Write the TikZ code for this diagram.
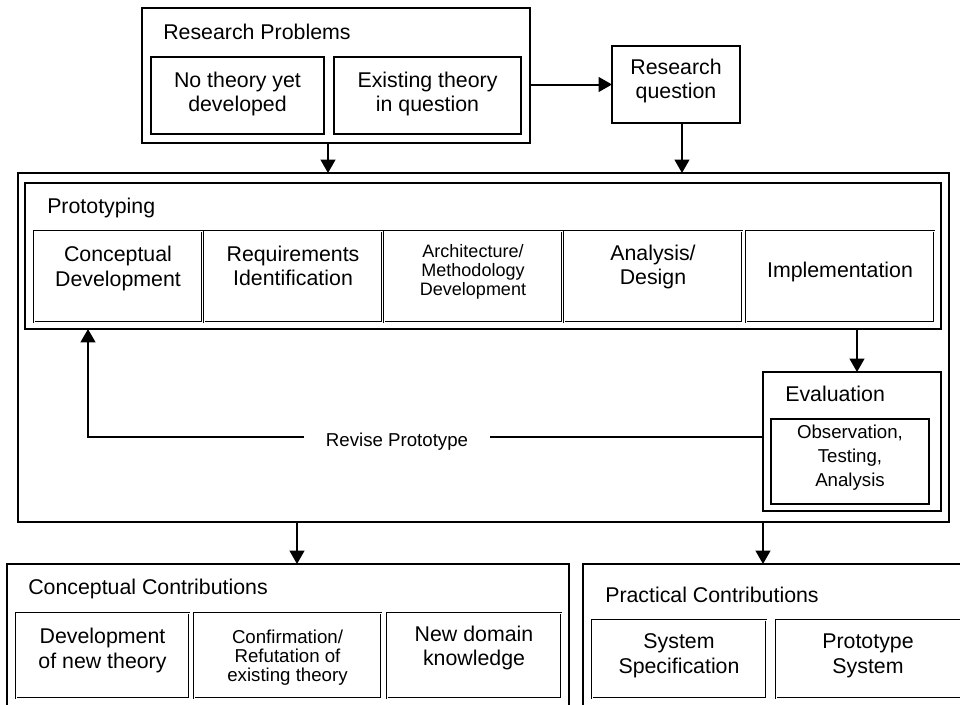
\documentclass[tikz,border=0pt]{standalone}
\usepackage{fontspec}
\setmainfont{Liberation Sans}
\usetikzlibrary{arrows.meta}

% one unit = one pixel of a 960 x 704 canvas, y grows downwards
\tikzset{
  x=0.75pt, y=-0.75pt,
  thinbox/.style={draw=black, line width=0.8pt, inner sep=0pt, outer sep=0pt},
  heavybox/.style={draw=black, line width=1.5pt, inner sep=0pt, outer sep=0pt},
  dblbox/.style={draw=black, double=white, double distance=0.7pt, line width=0.45pt, inner sep=0pt, outer sep=0pt},
  conn/.style={line width=1.5pt, -{Triangle[width=11pt,length=10pt]}},
  plainline/.style={line width=1.5pt},
  lbl/.style={align=center, inner sep=0pt, font=\fontsize{16}{18.4}\selectfont},
  lblsmall/.style={align=center, inner sep=0pt, font=\fontsize{13.5}{14}\selectfont},
  lblmid/.style={align=center, inner sep=0pt, font=\fontsize{14}{14.2}\selectfont},
  lblobs/.style={align=center, inner sep=0pt, font=\fontsize{14}{18.2}\selectfont},
  ttl/.style={anchor=base west, inner sep=0pt, font=\fontsize{16}{18.4}\selectfont},
}

% box node from its corners: name, style, x1, y1, x2, y2
\newcommand\pxbox[6]{%
  \node[#2, minimum width={0.75pt*(#5-#3)}, minimum height={0.75pt*(#6-#4)}]
    (#1) at ({(#3+#5)/2},{(#4+#6)/2}) {};}

\begin{document}
\begin{tikzpicture}
\clip (0,0) rectangle (960,704);
\fill[white] (0,0) rectangle (960,704);

% ---- research problems and question
\pxbox{rp}{thinbox}{142}{8}{530}{143}
\node[ttl] (rpt) at (163,39) {Research Problems};
\pxbox{nt}{thinbox}{151}{57}{324}{134}
\node[lbl] (ntt) at (237.5,94) {No theory yet\\developed};
\pxbox{et}{thinbox}{334}{57}{521}{134}
\node[lbl] (ett) at (427.5,94) {Existing theory\\in question};

\pxbox{rq}{thinbox}{612}{46}{740}{123}
\node[lbl] (rqt) at (676,81) {Research\\question};

% ---- prototyping cycle
\pxbox{big}{heavybox}{18}{173}{949}{522}
\pxbox{proto}{thinbox}{25}{183}{941}{329}
\node[ttl] (protot) at (47,213) {Prototyping};

\pxbox{cd}{dblbox}{34}{231}{202}{322}
\node[lbl] (cdt) at (118,268.5) {Conceptual\\Development};
\pxbox{ri}{dblbox}{204}{231}{382}{322}
\node[lbl] (rit) at (293,266) {Requirements\\Identification};
\pxbox{am}{dblbox}{384}{231}{562}{322}
\node[lblsmall] (amt) at (473,272) {Architecture/\\Methodology\\Development};
\pxbox{ad}{dblbox}{564}{231}{742}{322}
\node[lbl] (adt) at (653,267) {Analysis/\\Design};
\pxbox{im}{dblbox}{746}{231}{934}{322}
\node[lbl] (imt) at (840,271.5) {Implementation};

\pxbox{ev}{thinbox}{763}{372}{941}{511}
\node[ttl] (evt) at (785,401) {Evaluation};
\pxbox{ob}{thinbox}{771}{419}{929}{504}
\node[lblobs] (obt) at (850,457.7) {Observation,\\Testing,\\Analysis};

\node[lblmid, inner xsep=16pt] (rv) at (397,441.8) {Revise Prototype};

% ---- contributions
\pxbox{cc}{thinbox}{7}{564}{569}{720}
\node[ttl] (cct) at (28,594) {Conceptual Contributions};
\pxbox{dn}{dblbox}{16}{613}{189}{698}
\node[lbl] (dnt) at (102.5,650.5) {Development\\of new theory};
\pxbox{cr}{dblbox}{194}{613}{381}{698}
\node[lblmid] (crt) at (287.5,658) {Confirmation/\\Refutation of\\existing theory};
\pxbox{nd}{dblbox}{387}{613}{561}{698}
\node[lbl] (ndt) at (474,648) {New domain\\knowledge};

\pxbox{pc}{thinbox}{583}{564}{972}{720}
\node[ttl] (pct) at (605,602) {Practical Contributions};
\pxbox{ss}{dblbox}{592}{620}{766}{698}
\node[lbl] (sst) at (679,656) {System\\Specification};
\pxbox{ps}{dblbox}{776}{620}{961}{698}
\node[lbl] (pst) at (868,656) {Prototype\\System};

% ---- connectors
\coordinate (xrp) at (328,0);
\coordinate (xrq) at (682,0);
\coordinate (xim) at (857,0);
\coordinate (xcc) at (297,0);
\coordinate (xpc) at (763,0);
\coordinate (ret) at (88,437);

\draw[conn] (rp.east |- rq.west) -- (rq.west);
\draw[conn] (rp.south -| xrp) -- (big.north -| xrp);
\draw[conn] (rq.south -| xrq) -- (big.north -| xrq);
\draw[conn] (proto.south -| xim) -- (ev.north -| xim);
\draw[plainline] (ev.west |- ret) -- (rv.east |- ret);
\draw[conn] (rv.west |- ret) -- (ret) -- (proto.south -| ret);
\draw[conn] (big.south -| xcc) -- (cc.north -| xcc);
\draw[conn] (big.south -| xpc) -- (pc.north -| xpc);
\end{tikzpicture}
\end{document}
